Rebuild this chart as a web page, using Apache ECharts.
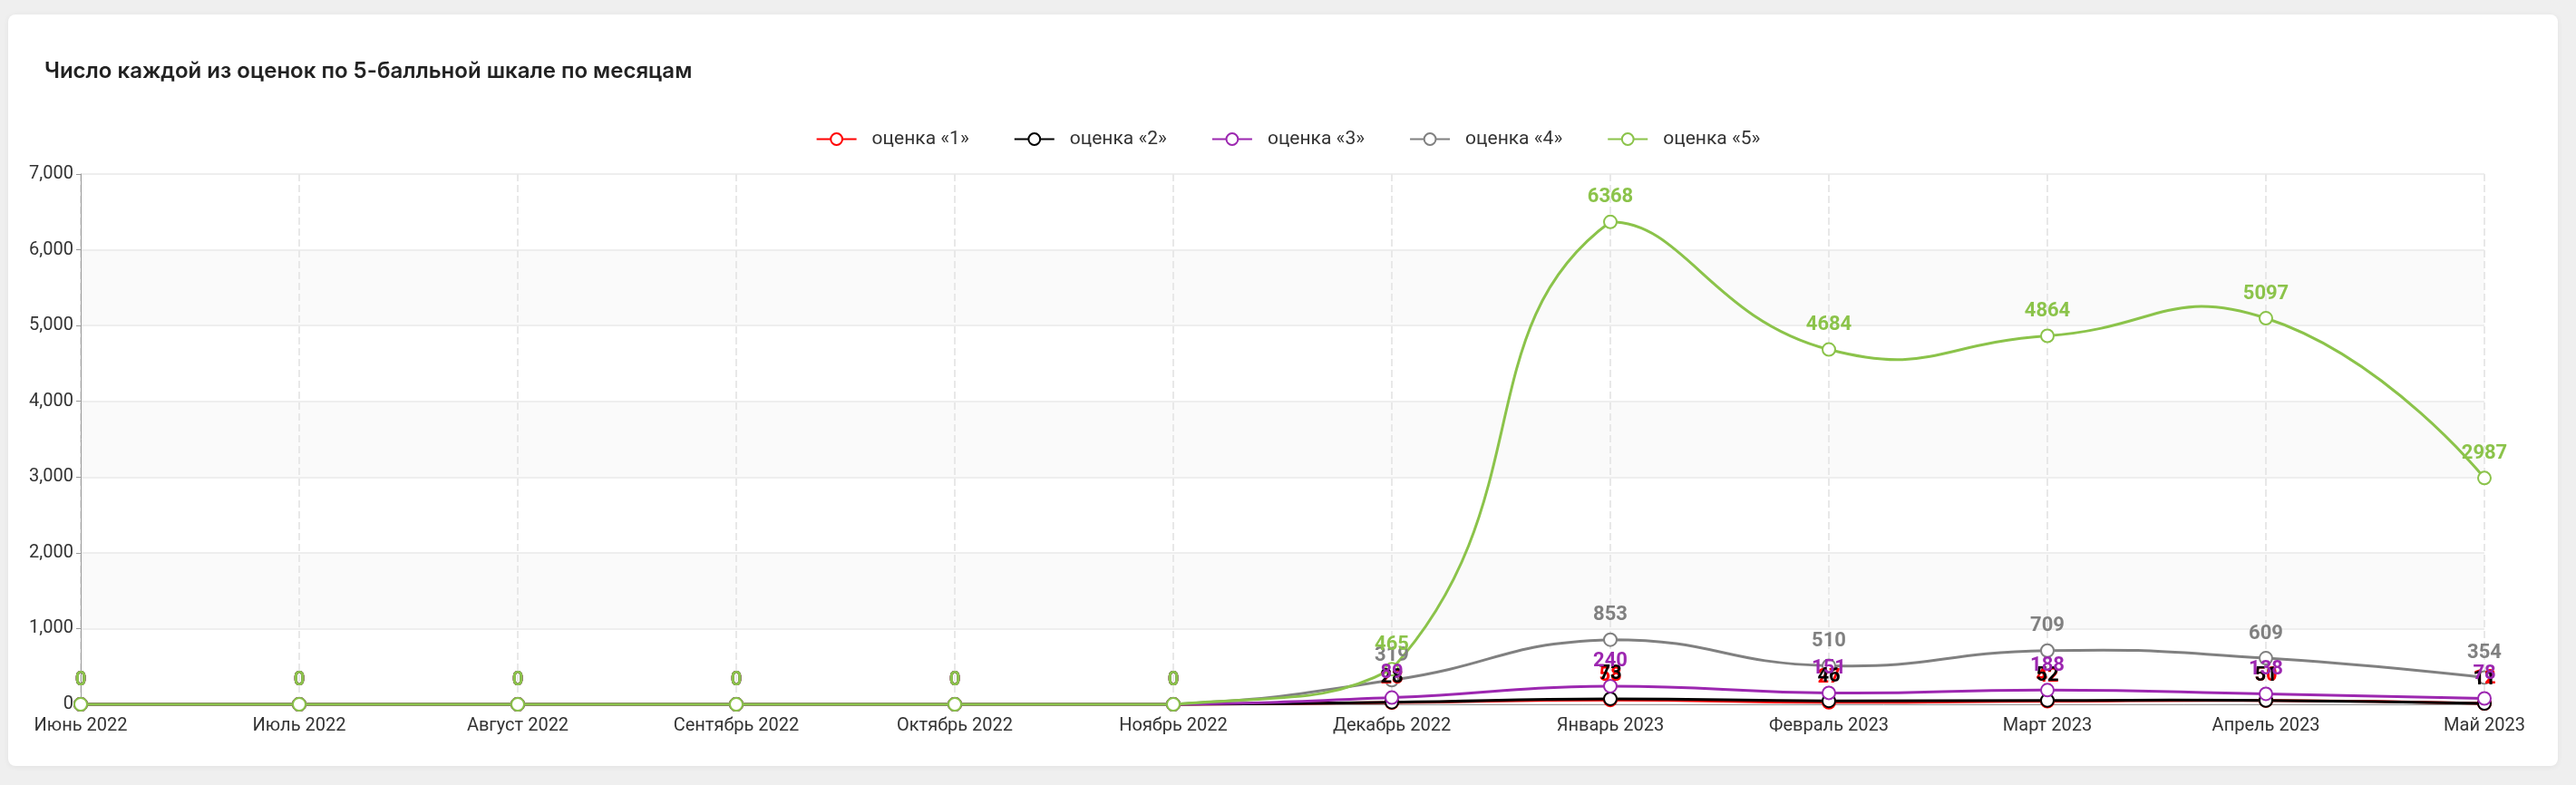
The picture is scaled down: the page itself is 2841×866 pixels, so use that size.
<!DOCTYPE html>
<html>
<head>
<meta charset="utf-8">
<script src="https://cdn.jsdelivr.net/npm/echarts@6/dist/echarts.min.js"></script>
<style>
  html, body { margin: 0; padding: 0; background: #efefef; }
  #card {
    position: absolute; left: 9px; top: 16px; width: 2812px; height: 829px;
    background: #fff; border-radius: 8px; box-shadow: 0 1px 6px rgba(0,0,0,0.06);
  }
  #chart { position: absolute; left: 0; top: 0; width: 2841px; height: 866px; }
</style>
</head>
<body>
<div id="card"></div>
<div id="chart"></div>
<script>
var months = ['Июнь 2022', 'Июль 2022', 'Август 2022', 'Сентябрь 2022', 'Октябрь 2022', 'Ноябрь 2022',
  'Декабрь 2022', 'Январь 2023', 'Февраль 2023', 'Март 2023', 'Апрель 2023', 'Май 2023'];
var grade1 = [0, 0, 0, 0, 0, 0, 23, 58, 27, 42, 50, 12];
var grade2 = [0, 0, 0, 0, 0, 0, 28, 73, 46, 52, 51, 11];
var grade3 = [0, 0, 0, 0, 0, 0, 89, 240, 151, 188, 138, 78];
var grade4 = [0, 0, 0, 0, 0, 0, 319, 853, 510, 709, 609, 354];
var grade5 = [0, 0, 0, 0, 0, 0, 465, 6368, 4684, 4864, 5097, 2987];
var names = ['оценка «1»', 'оценка «2»', 'оценка «3»', 'оценка «4»', 'оценка «5»'];
var colors = ['#ff0000', '#000000', '#9c27b0', '#808080', '#8bc34a'];

var myChart = echarts.init(document.getElementById('chart'));

// сглаживание как в старой версии (без ограничения по сегменту)
function smoothPath(pts, smooth) {
  var minX = Infinity, minY = Infinity, maxX = -Infinity, maxY = -Infinity;
  pts.forEach(function (p) {
    minX = Math.min(minX, p[0]); maxX = Math.max(maxX, p[0]);
    minY = Math.min(minY, p[1]); maxY = Math.max(maxY, p[1]);
  });
  function clamp(c) {
    return [Math.max(minX, Math.min(maxX, c[0])), Math.max(minY, Math.min(maxY, c[1]))];
  }
  var d = 'M' + pts[0][0] + ' ' + pts[0][1];
  var cp0 = pts[0].slice();
  var v = [0, 0];
  for (var i = 1; i < pts.length; i++) {
    var p = pts[i], prev = pts[i - 1], next = pts[i + 1];
    var ratio = 0.5, cp1;
    if (!next) {
      cp1 = p.slice();
    } else {
      v = [next[0] - prev[0], next[1] - prev[1]];
      var lp = Math.hypot(p[0] - prev[0], p[1] - prev[1]);
      var ln = Math.hypot(next[0] - p[0], next[1] - p[1]);
      ratio = ln / (ln + lp);
      cp1 = [p[0] - v[0] * smooth * (1 - ratio), p[1] - v[1] * smooth * (1 - ratio)];
    }
    var a = clamp(cp0), b = clamp(cp1);
    d += ' C' + a[0] + ' ' + a[1] + ' ' + b[0] + ' ' + b[1] + ' ' + p[0] + ' ' + p[1];
    cp0 = [p[0] + v[0] * smooth * ratio, p[1] + v[1] * smooth * ratio];
  }
  return d;
}

function curveSeries(i, data) {
  return {
    type: 'custom',
    silent: true,
    data: data,
    renderItem: function (params, api) {
      if (params.dataIndex !== 0) return;
      var pts = data.map(function (val, k) { return api.coord([k, val]); });
      return {
        type: 'path',
        shape: { pathData: smoothPath(pts, 0.5) },
        style: { stroke: colors[i], lineWidth: 3, fill: null }
      };
    }
  };
}

function pointSeries(i, data) {
  return {
    name: names[i],
    type: 'line',
    data: data,
    symbol: 'emptyCircle',
    symbolSize: 14,
    color: colors[i],
    lineStyle: { width: 3, color: colors[i], opacity: 0 },
    itemStyle: { color: colors[i], borderWidth: 3 },
    label: {
      show: true,
      position: 'top',
      distance: 8,
      color: colors[i],
      fontWeight: 'bold',
      fontSize: 22,
      fontFamily: 'Roboto'
    }
  };
}

var series = [];
[grade1, grade2, grade3, grade4, grade5].forEach(function (arr, i) {
  series.push(curveSeries(i, arr));
  series.push(pointSeries(i, arr));
});

var option = {
  textStyle: { fontFamily: 'Roboto' },
  title: {
    text: 'Число каждой из оценок по 5-балльной шкале по месяцам',
    left: 44,
    top: 62,
    textStyle: { fontFamily: 'Inter', fontWeight: 600, fontSize: 24, color: '#222' }
  },
  legend: {
    top: 138,
    left: 'center',
    itemWidth: 44,
    itemHeight: 16,
    itemGap: 49,
    lineStyle: { opacity: 1, width: 2 },
    textStyle: { fontSize: 21, color: '#333', padding: [0, 0, 0, 12] },
    data: names
  },
  grid: { left: 89, right: 101, top: 192, bottom: 89 },
  xAxis: {
    type: 'category',
    boundaryGap: false,
    data: months,
    axisLine: { lineStyle: { color: '#999' } },
    axisTick: { show: false },
    axisLabel: { fontSize: 20, color: '#333', margin: 14 },
    splitLine: { show: true, lineStyle: { type: 'dashed', color: '#e8e8e8', width: 2 } }
  },
  yAxis: {
    type: 'value',
    min: 0,
    max: 7000,
    interval: 1000,
    axisLine: { show: true, lineStyle: { color: '#999' } },
    axisTick: { show: true, length: 5 },
    axisLabel: { fontSize: 20, color: '#333' },
    splitLine: { lineStyle: { color: '#eeeeee', width: 2 } },
    splitArea: { show: true, areaStyle: { color: ['rgba(255,255,255,0)', '#fafafa'] } }
  },
  series: series
};

myChart.setOption(option);
</script>
</body>
</html>
